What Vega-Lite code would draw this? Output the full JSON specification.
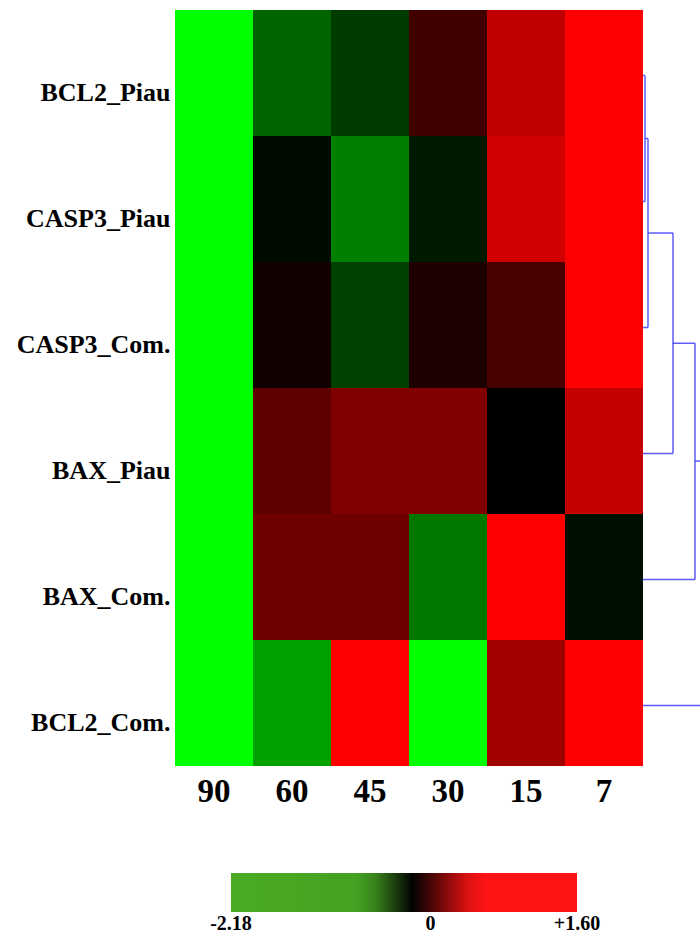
{
  "$schema": "https://vega.github.io/schema/vega-lite/v6.json",
  "autosize": "none",
  "width": 525,
  "height": 756,
  "padding": {"left": 175, "top": 10, "right": 0, "bottom": 169},
  "background": "white",
  "config": {"view": {"stroke": null}},
  "layer": [
    {
      "data": {"values": [
        {"gene": "BCL2_Piau", "time": "90", "value": -2.18},
        {"gene": "BCL2_Piau", "time": "60", "value": -0.855},
        {"gene": "BCL2_Piau", "time": "45", "value": -0.513},
        {"gene": "BCL2_Piau", "time": "30", "value": 0.402},
        {"gene": "BCL2_Piau", "time": "15", "value": 1.205},
        {"gene": "BCL2_Piau", "time": "7", "value": 1.6},
        {"gene": "CASP3_Piau", "time": "90", "value": -2.18},
        {"gene": "CASP3_Piau", "time": "60", "value": -0.1},
        {"gene": "CASP3_Piau", "time": "45", "value": -1.094},
        {"gene": "CASP3_Piau", "time": "30", "value": -0.22},
        {"gene": "CASP3_Piau", "time": "15", "value": 1.305},
        {"gene": "CASP3_Piau", "time": "7", "value": 1.6},
        {"gene": "CASP3_Com.", "time": "90", "value": -2.18},
        {"gene": "CASP3_Com.", "time": "60", "value": 0.1},
        {"gene": "CASP3_Com.", "time": "45", "value": -0.547},
        {"gene": "CASP3_Com.", "time": "30", "value": 0.19},
        {"gene": "CASP3_Com.", "time": "15", "value": 0.45},
        {"gene": "CASP3_Com.", "time": "7", "value": 1.6},
        {"gene": "BAX_Piau", "time": "90", "value": -2.18},
        {"gene": "BAX_Piau", "time": "60", "value": 0.577},
        {"gene": "BAX_Piau", "time": "45", "value": 0.803},
        {"gene": "BAX_Piau", "time": "30", "value": 0.803},
        {"gene": "BAX_Piau", "time": "15", "value": 0.0},
        {"gene": "BAX_Piau", "time": "7", "value": 1.23},
        {"gene": "BAX_Com.", "time": "90", "value": -2.18},
        {"gene": "BAX_Com.", "time": "60", "value": 0.703},
        {"gene": "BAX_Com.", "time": "45", "value": 0.69},
        {"gene": "BAX_Com.", "time": "30", "value": -1.026},
        {"gene": "BAX_Com.", "time": "15", "value": 1.6},
        {"gene": "BAX_Com.", "time": "7", "value": -0.137},
        {"gene": "BCL2_Com.", "time": "90", "value": -2.18},
        {"gene": "BCL2_Com.", "time": "60", "value": -1.368},
        {"gene": "BCL2_Com.", "time": "45", "value": 1.6},
        {"gene": "BCL2_Com.", "time": "30", "value": -2.18},
        {"gene": "BCL2_Com.", "time": "15", "value": 1.004},
        {"gene": "BCL2_Com.", "time": "7", "value": 1.6}
      ]},
      "mark": {"type": "rect", "strokeWidth": 0},
      "encoding": {
        "x": {
          "field": "time", "type": "ordinal",
          "sort": ["90", "60", "45", "30", "15", "7"],
          "scale": {"range": [0, 468], "paddingInner": 0, "paddingOuter": 0},
          "axis": {
            "title": null, "orient": "bottom", "ticks": false, "domain": false,
            "labelAngle": 0, "labelPadding": 9,
            "labelFont": "Liberation Serif", "labelFontWeight": "bold",
            "labelFontSize": 33, "labelColor": "black"
          }
        },
        "y": {
          "field": "gene", "type": "nominal",
          "sort": ["BCL2_Piau", "CASP3_Piau", "CASP3_Com.", "BAX_Piau", "BAX_Com.", "BCL2_Com."],
          "scale": {"paddingInner": 0, "paddingOuter": 0},
          "axis": {
            "title": null, "ticks": false, "domain": false,
            "labelPadding": 5, "labelOffset": 20,
            "labelFont": "Liberation Serif", "labelFontWeight": "bold",
            "labelFontSize": 26, "labelColor": "black"
          }
        },
        "fill": {
          "field": "value", "type": "quantitative",
          "scale": {"domain": [-2.18, 0, 1.6], "range": ["#00ff00", "#000000", "#ff0000"], "interpolate": "rgb"},
          "legend": null
        },
        "stroke": {
          "field": "value", "type": "quantitative",
          "scale": {"domain": [-2.18, -0.7, -0.19, 0.5, 1.6], "range": ["#4aab23", "#44a022", "#000000", "#ff1414", "#ff1414"], "interpolate": "rgb"},
          "legend": {
            "orient": "none", "legendX": 56, "legendY": 863,
            "direction": "horizontal", "title": null,
            "gradientLength": 346, "gradientThickness": 39, "gradientStrokeWidth": 0,
            "values": [-2.18, 0, 1.6],
            "labelExpr": "datum.value < 0 ? '-' + format(-datum.value, '.2f') : datum.value > 0 ? '+' + format(datum.value, '.2f') : '0'",
            "labelOverlap": false, "labelOffset": 2,
            "labelFont": "Liberation Serif", "labelFontWeight": "bold",
            "labelFontSize": 20, "labelColor": "black", "padding": 0,
            "encode": {"labels": {"update": {"align": {"value": "center"}}}}
          }
        }
      }
    },
    {
      "data": {"values": [
        {"x1": 0, "x2": 0.2, "y1": 0.52, "y2": 0.52},
        {"x1": 0, "x2": 0.2, "y1": 1.52, "y2": 1.52},
        {"x1": 0.2, "x2": 0.2, "y1": 0.52, "y2": 1.52},
        {"x1": 0.2, "x2": 0.5, "y1": 1.02, "y2": 1.02},
        {"x1": 0, "x2": 0.5, "y1": 2.52, "y2": 2.52},
        {"x1": 0.5, "x2": 0.5, "y1": 1.02, "y2": 2.52},
        {"x1": 0.5, "x2": 3.0, "y1": 1.77, "y2": 1.77},
        {"x1": 0, "x2": 3.0, "y1": 3.52, "y2": 3.52},
        {"x1": 3.0, "x2": 3.0, "y1": 1.77, "y2": 3.52},
        {"x1": 3.0, "x2": 5.2, "y1": 2.645, "y2": 2.645},
        {"x1": 0, "x2": 5.2, "y1": 4.52, "y2": 4.52},
        {"x1": 5.2, "x2": 5.2, "y1": 2.645, "y2": 4.52},
        {"x1": 5.2, "x2": 7.7, "y1": 3.58, "y2": 3.58},
        {"x1": 0, "x2": 7.7, "y1": 5.52, "y2": 5.52},
        {"x1": 7.7, "x2": 7.7, "y1": 3.58, "y2": 5.52}
      ]},
      "mark": {"type": "rule", "color": "#4040ff", "strokeWidth": 1.5, "opacity": 0.85, "clip": true},
      "encoding": {
        "x": {"field": "x1", "type": "quantitative", "scale": {"domain": [-46.8, 5.7], "nice": false, "zero": false}, "axis": null},
        "x2": {"field": "x2"},
        "y": {"field": "y1", "type": "quantitative", "scale": {"domain": [0, 6], "reverse": true, "nice": false, "zero": false}, "axis": null},
        "y2": {"field": "y2"}
      }
    }
  ],
  "resolve": {
    "scale": {"x": "independent", "y": "independent"},
    "axis": {"x": "independent", "y": "independent"}
  }
}
